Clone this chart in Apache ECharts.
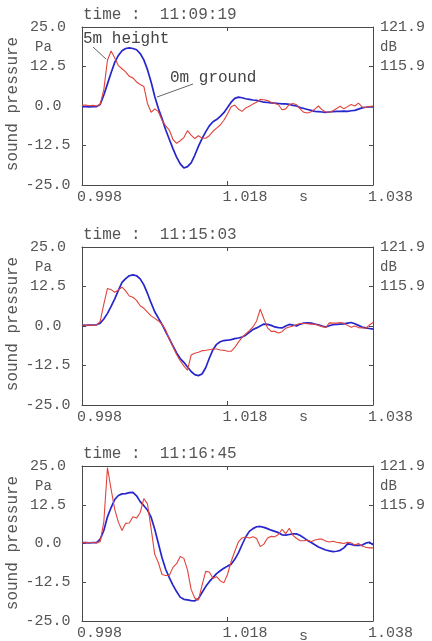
<!DOCTYPE html>
<html>
<head>
<meta charset="utf-8">
<script src="https://cdn.jsdelivr.net/npm/echarts@6/dist/echarts.min.js"></script>
<style>
  html, body { margin: 0; padding: 0; background: #fff; }
  #chart { width: 432px; height: 641px; }
</style>
</head>
<body>
<div id="chart"></div>
<script>
// sample times, ms after 0.998 s (0.5 ms steps)
const times = Array.from({ length: 81 }, (_, i) => i * 0.5);

const panelTimes = ['11:09:19', '11:15:03', '11:16:45'];
const xTickLabels = ['0.998', '1.018', '1.038'];
const dBLabels = [[25, '121.9'], [12.5, '115.9']];

// 0m ground (blue)
const ground1 = [-0.2,-0.2,-0.3,-0.2,-0.2,0.5,3.5,7,10.5,13.8,16,17.5,18.2,18.4,18.2,17.8,16.6,14.6,11.5,7.6,
  3,-0.8,-4,-7.5,-10.5,-13.5,-16.2,-18.3,-19.6,-19.2,-18,-15.6,-12.8,-10.3,-8.2,-6.3,-5,-4.3,-3.3,-2.1,
  -0.5,1.2,2.4,2.8,2.6,2.3,2.1,1.9,1.8,1.5,1.2,1.1,1,0.9,0.8,0.7,0.7,0.5,0.2,0,
  -0.5,-0.8,-1.1,-1.4,-1.7,-1.8,-1.9,-2,-1.9,-1.8,-1.7,-1.7,-1.6,-1.7,-1.5,-1.4,-1,-0.6,-0.4,-0.3,-0.3];
// 5m height (red)
const height1 = [0.2,0.3,0.1,0.2,0,0.5,5.2,14.5,17.4,15.2,12.8,11.8,10.8,9.4,8.9,7.6,6.8,6.2,0.8,-2,
  -0.9,-1.8,-4.5,-6.3,-7.6,-10.6,-11.8,-11,-10,-7.8,-9.2,-10.3,-9.4,-10.2,-10.2,-9.4,-8,-7,-6,-4.5,
  -2.5,-0.2,0.3,-1,-1.7,-0.6,-0.1,0.6,1.2,2.1,2,1.7,1.2,0.8,0.4,-1.2,-0.9,0.5,0.8,0.4,
  -1,-2,-2.2,-1.8,-1,0,-1.2,-1.9,-2,-1.5,-0.8,-0.1,-0.9,-0.2,0.5,0,0.9,-0.3,-0.5,-0.2,0];

const ground2 = [0.3,0.2,0.3,0.3,0.4,0.9,2.2,4,6.2,8.6,11.3,13.8,15,15.9,16.2,15.9,14.9,13,10.3,7.3,
  4.5,2.5,0.5,-1.8,-4,-6.3,-8.5,-10.3,-11.5,-13,-14.4,-15.4,-15.7,-15.2,-13.2,-10.2,-7.5,-5.8,-5,-4.6,
  -4.5,-4.3,-4,-3.8,-3.5,-2.9,-2,-1.1,-0.6,0,0.6,0.5,0.2,-0.3,-0.5,-0.6,0,0.5,0.3,0,
  0.6,0.9,1,0.9,0.6,0.4,0,-0.3,0.1,0.4,0.5,0.6,0.7,0.9,1.1,0.7,0.2,-0.3,-0.6,-0.8,-1];
const height2 = [0.3,0.2,0.3,0.2,0.3,1.5,6.9,11.9,11.5,10.7,11.4,12.3,11.1,9.5,9.1,8.1,6.4,5.6,4.4,3.2,
  2.4,1.6,0.6,-1.3,-4.2,-6.6,-9,-11,-12.6,-14,-9.2,-8.6,-8.3,-7.8,-7.7,-7.5,-7.3,-7.3,-7.6,-7.7,
  -8,-8,-6.8,-5.1,-3.6,-2.5,-1.5,-0.3,1.6,5.3,2.3,-0.6,-1.7,-1.7,-2.2,-1.8,-0.7,-0.3,0,0.5,
  0.8,0.8,0.7,0.6,0.6,0.2,-0.2,-0.5,1,0.9,0.9,1.1,0.9,0.2,-0.4,0,-0.5,-0.6,-0.7,0.3,1.1];

const ground3 = [0.3,0.3,0.2,0.3,0.3,1.4,4.2,8.6,11.6,14.2,15.5,16,16.1,16.4,16.5,15.4,13.5,12.2,10.8,8.5,
  4.6,0,-4.6,-8.3,-11,-13.4,-15.5,-17.3,-18,-18.2,-18.4,-18.5,-17.8,-15.8,-13.9,-12.3,-11,-9.7,-8.8,-8,
  -7.3,-6.7,-5.1,-3,-0.4,2.1,3.9,4.8,5.4,5.5,5.2,4.8,4.3,3.9,3.5,2.8,2.7,2.9,3.1,3.1,
  2.6,1.8,1,0.3,-0.4,-1.1,-1.6,-2.1,-2.4,-2.6,-2.5,-2.2,-1.4,-0.1,-0.3,-0.6,-0.6,-0.5,0.1,0.4,-0.4];
const height3 = [0.3,0.2,0.3,0.3,0.2,0.6,7,24.5,17.5,11,6.9,4.2,6.5,6.6,8.6,8.2,10,14.5,12.8,4.8,
  -3.5,-6.2,-10,-10.3,-10.3,-7.7,-6.5,-4.2,-4.8,-8.5,-14.8,-17.6,-18.3,-13.5,-9,-9.2,-11.2,-10.7,-12,-12.7,
  -10,-5.8,-2.5,0.5,1.8,2.1,1.8,2.2,1.6,-1,-0.2,1.8,2.3,2.2,2.9,4.6,3.2,4.9,2.6,1.6,
  0.9,0.9,1.1,0.6,1.1,1.4,1.4,0.8,0.5,0.7,0.4,0.2,0,0.4,0.2,-0.5,0,-0.8,-1.2,-1.4,-1.4];

const groundSeries = [ground1, ground2, ground3];
const heightSeries = [height1, height2, height3];

const chart = echarts.init(document.getElementById('chart'));

const font = '"Liberation Mono", "DejaVu Sans Mono", monospace';
const txt = '#555';
const frame = '#4a4a4a';
const blue = '#2626cc';
const red = '#e0443c';
const gridTops = [27, 247, 466];
const plotH = 158;

const grids = [], xAxes = [], yAxes = [], series = [], graphics = [];

const lineCommon = { show: true, onZero: false, lineStyle: { color: frame, width: 1 } };
const tickCommon = { show: true, inside: true, length: 4, lineStyle: { color: frame } };

gridTops.forEach((top, i) => {
  grids.push({ left: 82, right: 59, top: top, height: plotH });

  xAxes.push({
    gridIndex: i, type: 'value', min: 0, max: 40, interval: 20, position: 'bottom',
    axisLine: lineCommon, axisTick: tickCommon, splitLine: { show: false },
    axisLabel: {
      formatter: v => xTickLabels[Math.round(v / 20)], align: 'left', padding: [0, 0, 0, -5],
      margin: 5, showMinLabel: true, showMaxLabel: true,
      fontFamily: font, fontSize: 15, color: txt
    }
  });
  xAxes.push({
    gridIndex: i, type: 'value', min: 0, max: 40, interval: 20, position: 'top',
    axisLine: lineCommon, axisTick: tickCommon, splitLine: { show: false },
    axisLabel: { show: false }
  });

  yAxes.push({
    gridIndex: i, type: 'value', min: -25, max: 25, interval: 12.5, position: 'left',
    axisLine: lineCommon, axisTick: tickCommon, splitLine: { show: false },
    axisLabel: {
      formatter: v => v.toFixed(1), align: 'center', margin: 34,
      showMinLabel: true, showMaxLabel: true,
      fontFamily: font, fontSize: 15, color: txt
    }
  });
  yAxes.push({
    gridIndex: i, type: 'value', min: -25, max: 25, interval: 12.5, position: 'right',
    axisLine: lineCommon, axisTick: tickCommon, splitLine: { show: false },
    axisLabel: {
      formatter: v => { const d = dBLabels.find(p => p[0] === v); return d ? d[1] : ''; },
      align: 'left', margin: 7, showMinLabel: true, showMaxLabel: true,
      fontFamily: font, fontSize: 15, color: txt
    }
  });

  series.push({
    name: '0m ground', type: 'line', xAxisIndex: 2 * i, yAxisIndex: 2 * i,
    data: times.map((t, k) => [t, groundSeries[i][k]]),
    showSymbol: false, smooth: false, animation: false,
    lineStyle: { color: blue, width: 1.7 }, z: 2
  });
  series.push({
    name: '5m height', type: 'line', xAxisIndex: 2 * i, yAxisIndex: 2 * i,
    data: times.map((t, k) => [t, heightSeries[i][k]]),
    showSymbol: false, smooth: false, animation: false,
    lineStyle: { color: red, width: 1.1 }, z: 3
  });

  const st = (text, size) => ({ text: text, font: size + 'px ' + font, fill: txt, verticalAlign: 'middle' });
  graphics.push({ type: 'text', x: 83, y: top - 12, style: st('time :  ' + panelTimes[i], 16) });
  graphics.push({ type: 'text', x: 35, y: top + 20, style: st('Pa', 14) });
  graphics.push({ type: 'text', x: 380, y: top + 20, style: st('dB', 14) });
  graphics.push({ type: 'text', x: 299, y: top + plotH + 12, style: st('s', 15) });
  graphics.push({
    type: 'text', x: 13, y: top + 77, rotation: Math.PI / 2,
    style: Object.assign(st('sound pressure', 16), { align: 'center' })
  });
});

// labels with leader lines, top panel
graphics.push({ type: 'text', x: 83, y: 39, style: { text: '5m height', font: '16px ' + font, fill: '#444', verticalAlign: 'middle' } });
graphics.push({ type: 'line', shape: { x1: 93, y1: 47, x2: 106, y2: 59 }, style: { stroke: '#666', lineWidth: 1 } });
graphics.push({ type: 'text', x: 170, y: 78, style: { text: '0m ground', font: '16px ' + font, fill: '#444', verticalAlign: 'middle' } });
graphics.push({ type: 'line', shape: { x1: 193, y1: 84, x2: 157, y2: 97 }, style: { stroke: '#666', lineWidth: 1 } });

chart.setOption({
  backgroundColor: '#fff',
  animation: false,
  grid: grids,
  xAxis: xAxes,
  yAxis: yAxes,
  series: series,
  graphic: graphics
});
</script>
</body>
</html>
